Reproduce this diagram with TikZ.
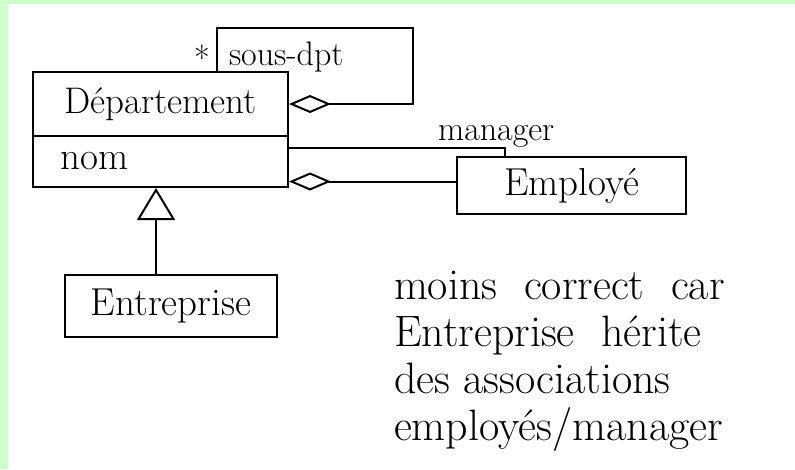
\documentclass[tikz,border=0pt]{standalone}
\usetikzlibrary{arrows.meta}
\definecolor{bandgreen}{HTML}{CCFFCC}
\begin{document}
\begin{tikzpicture}[x=1pt,y=-1pt,line width=2pt,
  classbox/.style={draw,rectangle,inner sep=0pt,font=\fontsize{37}{40}\selectfont},
  bigname/.style={font=\fontsize{39}{42}\selectfont},
  rolelbl/.style={inner sep=0pt,font=\fontsize{34}{36}\selectfont},
  notetext/.style={inner sep=0pt,align=left,font=\fontsize{44}{47}\selectfont},
  agg/.style={{Diamond[open,length=42pt,width=18pt]}-},
  inherit/.style={-{Triangle[open,length=32pt,width=38pt]}}]
\useasboundingbox (0,0) rectangle (795,469);
\fill[bandgreen] (0,0) rectangle (795,4);
\fill[bandgreen] (0,0) rectangle (8,469);
% classes
\node[classbox,minimum width=255pt,minimum height=64pt] (dept) at (160.5,104) {Département};
\node[classbox,bigname,minimum width=255pt,minimum height=51pt,text width=200pt,align=left] (nom) at (160.5,161.5) {nom};
\node[classbox,bigname,minimum width=229pt,minimum height=57pt] (emp) at (571.5,185.5) {Employé};
\node[classbox,bigname,minimum width=212pt,minimum height=62pt] (ent) at (171,306) {Entreprise};
% self aggregation sous-dpt
\coordinate (selfA) at (413,104);
\coordinate (selfB) at (413,28);
\coordinate (selfC) at (217,28);
\draw[agg] (dept.east) -- (selfA) -- (selfB) -- (selfC) -- (selfC |- dept.north);
\node[rolelbl] (star) at (202,58) {*};
\node[rolelbl,anchor=base west] (sousdpt) at (228,65) {sous-dpt};
% manager
\draw ([yshift=13.5pt]nom.east) -| ([xshift=-66.5pt]emp.north);
\node[rolelbl,anchor=base west] (mgr) at (437,140) {manager};
% employees aggregation
\draw[agg] ([yshift=-20pt]nom.east) -- ([yshift=-20pt]nom.east -| emp.west);
% inheritance
\draw[inherit] ([xshift=-15pt]ent.north) -- ([xshift=-15pt]ent.north |- nom.south);
% note
\node[notetext,anchor=base west] (note) at (393,440) {moins\ \ correct\ \ car\\Entreprise\ \ hérite\\des associations\\employés/manager};
\end{tikzpicture}
\end{document}
